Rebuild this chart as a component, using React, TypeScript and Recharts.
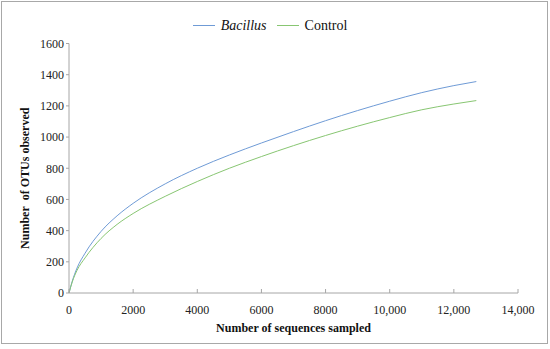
import { LineChart, Line, XAxis, YAxis, Legend } from "recharts";

const sequences = [0, 100, 250, 500, 1000, 1500, 2000, 3000, 4000, 5000, 6000, 7000, 8000, 9000, 10000, 11000, 12000, 12700];
const bacillus = [0, 75, 160, 255, 395, 495, 575, 700, 800, 885, 962, 1035, 1105, 1170, 1230, 1285, 1330, 1356];
const control = [0, 70, 145, 225, 350, 440, 510, 620, 715, 800, 875, 945, 1010, 1070, 1125, 1175, 1212, 1234];

const xTicks = [0, 2000, 4000, 6000, 8000, 10000, 12000, 14000];
const xTickLabels = ["0", "2000", "4000", "6000", "8000", "10,000", "12,000", "14,000"];
const yTicks = [0, 200, 400, 600, 800, 1000, 1200, 1400, 1600];

const BLUE = "#6f9bd6";
const GREEN = "#88c672";
const AXIS = "#a6a6a6";
const FONT = "'Liberation Serif', 'Times New Roman', serif";

const data = sequences.map((s, i) => ({ seq: s, bacillus: bacillus[i], control: control[i] }));

function LegendContent() {
    const item = (color: string, label: string, italic: boolean) => (
        <span style={{ display: "inline-flex", alignItems: "center", marginRight: 10 }}>
            <span style={{ display: "inline-block", width: 22, height: 0, borderTop: `1px solid ${color}`, marginRight: 6 }} />
            <span style={{ fontStyle: italic ? "italic" : "normal" }}>{label}</span>
        </span>
    );
    return (
        <div style={{ textAlign: "center", fontFamily: FONT, fontSize: 14, color: "#111" }}>
            {item(BLUE, "Bacillus", true)}
            {item(GREEN, "Control", false)}
        </div>
    );
}

export default function App() {
    return (
        <div style={{ position: "absolute", left: 0, top: 0, width: 550, height: 349, background: "#fff" }}>
            <div
                style={{
                    position: "absolute",
                    left: 1,
                    top: 1,
                    width: 545,
                    height: 341,
                    border: "1.5px solid #a8a8a8",
                    pointerEvents: "none",
                }}
            />
            <LineChart width={550} height={349} data={data} margin={{ top: 24, right: 32, bottom: 11, left: 19 }}>
                <Legend
                    verticalAlign="top"
                    content={<LegendContent />}
                    wrapperStyle={{ top: 14, left: 0, width: 550 }}
                />
                <XAxis
                    dataKey="seq"
                    type="number"
                    domain={[0, 14000]}
                    ticks={xTicks}
                    tickFormatter={(v: number) => xTickLabels[xTicks.indexOf(v)]}
                    interval={0}
                    height={45}
                    axisLine={{ stroke: AXIS }}
                    tickLine={{ stroke: AXIS }}
                    tickSize={-4}
                    tickMargin={16}
                    tick={{ fill: "#222", fontSize: 12, fontFamily: FONT }}
                    label={{
                        value: "Number of sequences sampled",
                        position: "insideBottom",
                        offset: 6,
                        style: { fill: "#111", fontSize: 12, fontWeight: "bold", fontFamily: FONT },
                    }}
                />
                <YAxis
                    type="number"
                    domain={[0, 1600]}
                    ticks={yTicks}
                    interval={0}
                    width={50}
                    axisLine={{ stroke: AXIS }}
                    tickLine={{ stroke: AXIS }}
                    tickSize={3}
                    tickMargin={2}
                    tick={{ fill: "#222", fontSize: 12, fontFamily: FONT }}
                    label={{
                        value: "Number\u00a0 of OTUs observed",
                        angle: -90,
                        position: "center",
                        dx: -19,
                        dy: 10,
                        style: { fill: "#111", fontSize: 12, fontWeight: "bold", fontFamily: FONT },
                    }}
                />
                <Line type="monotone" dataKey="bacillus" stroke={BLUE} strokeWidth={1} dot={false} isAnimationActive={false} />
                <Line type="monotone" dataKey="control" stroke={GREEN} strokeWidth={1} dot={false} isAnimationActive={false} />
            </LineChart>
        </div>
    );
}
